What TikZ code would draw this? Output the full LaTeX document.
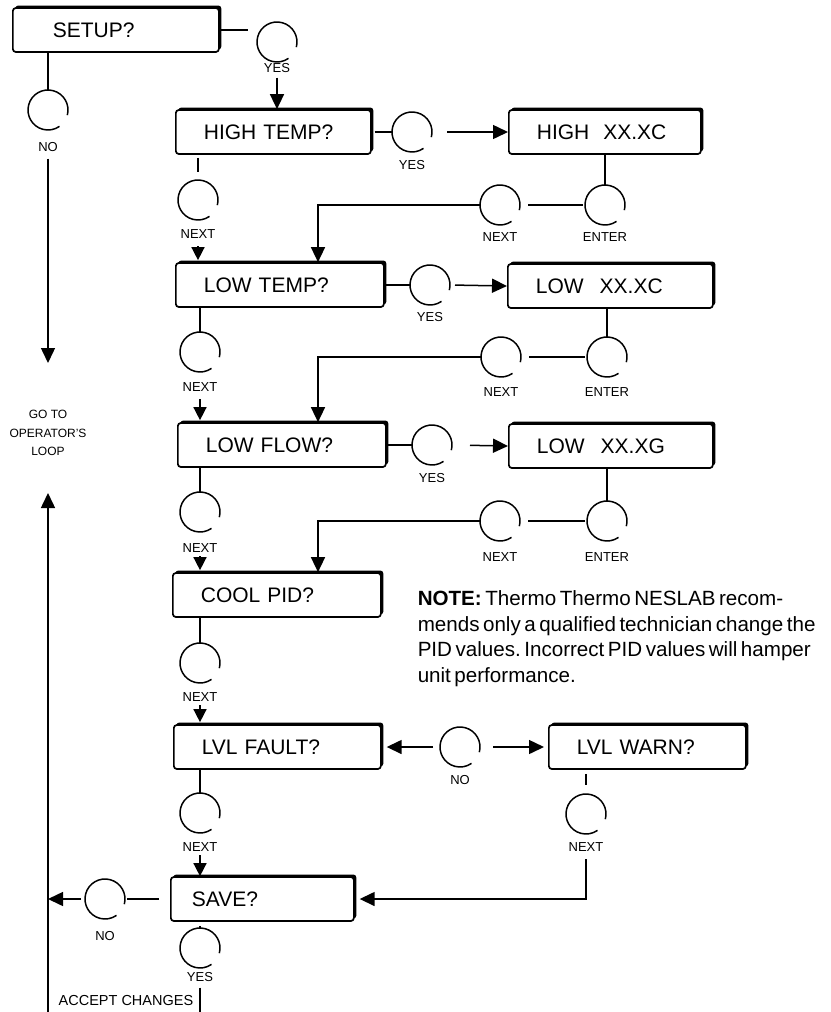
\documentclass[tikz,border=0pt]{standalone}
\usepackage{fontspec}
\setmainfont{Liberation Sans}
\usetikzlibrary{arrows.meta,calc,positioning,shadows}

\newcommand\notefont{\fontsize{20.6}{25.5}\selectfont\frenchspacing\spaceskip=0.17em\relax}

\tikzset{
  box/.style={draw, line width=1.7pt, rounded corners=3pt, fill=white,
    drop shadow={shadow xshift=2.5pt, shadow yshift=2.5pt, opacity=1, fill=black},
    anchor=west, align=left, text width=#1, inner xsep=28pt, minimum height=44pt,
    font=\fontsize{21}{21}\selectfont},
  btn/.style={circle, minimum size=40pt, inner sep=0pt, outer sep=0pt},
  tag/.style={font=\fontsize{13}{13}\selectfont, inner sep=1pt},
  arr/.style={-{Triangle[length=15pt,width=14pt]}},
  tip/.style={-{Triangle[length=13pt,width=13pt]}},
}

\begin{document}
\begin{tikzpicture}[x=1pt, y=1pt, line width=1.5pt]
\useasboundingbox (0,0) rectangle (830,-1012);

% display boxes
\node[box=150pt] (setup) at (12,-30) {\hspace*{12pt}SETUP?};
\node[box=139pt] (hight) at (175,-132) {HIGH TEMP?};
\node[box=136pt] (highv) at (508,-132) {HIGH\hspace{14pt}XX.XC};
\node[box=152pt] (lowt) at (175,-285) {LOW TEMP?};
\node[box=149pt] (lowv) at (507,-286) {LOW\hspace{16pt}XX.XC};
\node[box=152pt] (lowf) at (177,-445) {LOW FLOW?};
\node[box=148pt] (lowfv) at (508,-446) {LOW\hspace{16pt}XX.XG};
\node[box=152pt] (cool) at (172,-595) {COOL PID?};
\node[box=151pt] (fault) at (173,-747) {LVL FAULT?};
\node[box=141pt] (warn) at (548,-747) {LVL WARN?};
\node[box=127pt] (save) at (170,-899) {\hspace*{-7pt}SAVE?};

% keys with their labels
\foreach \n/\x/\y/\t/\d in {ysetup/277/42/YES/0pt, nsetup/48/110/NO/11pt,
    yhigh/412/132/YES/7pt, nhigh/198/200/NEXT/8pt, nhighv/500/205/NEXT/6pt, ehighv/605/205/ENTER/6pt,
    ylow/430/285/YES/6pt, nlow/200/352/NEXT/9pt, nlowv/501/357/NEXT/9pt, elowv/607/357/ENTER/9pt,
    yflow/432/445/YES/7pt, nflow/200/512/NEXT/10pt, nflowv/500/521/NEXT/10pt, eflowv/607/521/ENTER/10pt,
    ncool/200/663/NEXT/8pt, nfault/460/747/NO/7pt, nfaultd/200/813/NEXT/8pt, nwarn/586/814/NEXT/7pt,
    nsave/105/899/NO/11pt, ysave/200/948/YES/3pt}{
  \node[btn] (\n) at (\x,-\y) {};
  \node[tag, below=\d of \n] (\n-l) {\t};
  \draw (\n.-15) arc[start angle=-15, delta angle=320, radius=20pt];
}

\coordinate (drop) at (318,0);
\coordinate (opin) at (48,-363);
\coordinate (opout) at (48,-493);
\coordinate (loopbot) at (48,-1012);

% setup
\draw[shorten >=9pt] (setup.east) -- (setup.east -| ysetup.west);
\draw[arr, shorten <=3pt] (ysetup-l.south) -- (ysetup-l.south |- hight.north);
\draw (setup.south -| nsetup) -- (nsetup.north);
\draw[arr, shorten <=5pt] (nsetup-l.south) -- (nsetup-l.south |- opin);
\node[align=center, font=\fontsize{12}{18.5}\selectfont] (oploop) at (48,-433) {GO TO\\OPERATOR'S\\LOOP};
\draw[arr] (loopbot) -- (opout);

% high temp
\draw[shorten <=3pt] (hight.east) -- (yhigh.west);
\draw[arr, shorten <=15pt] (yhigh.east) -- (highv.west);
\draw[shorten <=3pt, shorten >=8pt] (hight.south -| nhigh) -- (nhigh.north);
\draw[tip, shorten <=6pt, shorten >=2pt] (nhigh-l.south) -- (nhigh-l.south |- lowt.north);
\draw (highv.south -| ehighv) -- (ehighv.north);
\draw[shorten <=2pt, shorten >=8pt] (ehighv.west) -- (nhighv.east);
\draw[arr] (nhighv.west) -| (drop |- lowt.north);

% low temp
\draw (lowt.east) -- (ylow.west);
\draw[arr, shorten <=5pt] (ylow.east) -- (lowv.west);
\draw (lowt.south -| nlow) -- (nlow.north);
\draw[tip, shorten <=6pt, shorten >=2pt] (nlow-l.south) -- (nlow-l.south |- lowf.north);
\draw (lowv.south -| elowv) -- (elowv.north);
\draw[shorten <=2pt, shorten >=8pt] (elowv.west) -- (nlowv.east);
\draw[arr] (nlowv.west) -| (drop |- lowf.north);

% low flow
\draw (lowf.east) -- (yflow.west);
\draw[arr, shorten <=18pt] (yflow.east) -- (lowfv.west);
\draw (lowf.south -| nflow) -- (nflow.north);
\draw[tip, shorten <=2pt, shorten >=2pt] (nflow-l.south) -- (nflow-l.south |- cool.north);
\draw (lowfv.south -| eflowv) -- (eflowv.north);
\draw[shorten <=2pt, shorten >=8pt] (eflowv.west) -- (nflowv.east);
\draw[arr] (nflowv.west) -| (drop |- cool.north);

% cool pid
\draw (cool.south -| ncool) -- (ncool.north);
\draw[tip, shorten <=2pt, shorten >=2pt] (ncool-l.south) -- (ncool-l.south |- fault.north);
\node[anchor=north west, inner sep=0pt, align=left, font=\notefont] (note) at (417,-590)
  {\textbf{NOTE:} Thermo Thermo NESLAB recom-\\mends only a qualified technician change the\\PID values. Incorrect PID values will hamper\\unit performance.};

% level fault / warn
\draw[arr, shorten <=7pt, shorten >=5pt] (nfault.west) -- (fault.east);
\draw[arr, shorten <=13pt, shorten >=4pt] (nfault.east) -- (warn.west);
\draw (fault.south -| nfaultd) -- (nfaultd.north);
\draw[tip, shorten <=2pt] (nfaultd-l.south) -- (nfaultd-l.south |- save.north);
\draw[shorten <=4pt, shorten >=9pt] (warn.south -| nwarn) -- (nwarn.north);
\draw[arr, shorten <=6pt, shorten >=5pt] (nwarn-l.south) |- (save.east);

% save
\draw[shorten <=11pt, shorten >=2pt] (save.west) -- (nsave.east);
\draw[arr, shorten <=4pt] (nsave.west) -- (nsave.west -| opout);
\draw[shorten <=4pt] (save.south -| ysave) -- (ysave.north);
\draw[shorten <=4pt] (ysave-l.south) -- (ysave-l.south |- loopbot);
\node[anchor=east, inner sep=0pt, font=\fontsize{14.5}{14.5}\selectfont] (accept) at (194,-1000) {ACCEPT CHANGES};
\end{tikzpicture}
\end{document}
